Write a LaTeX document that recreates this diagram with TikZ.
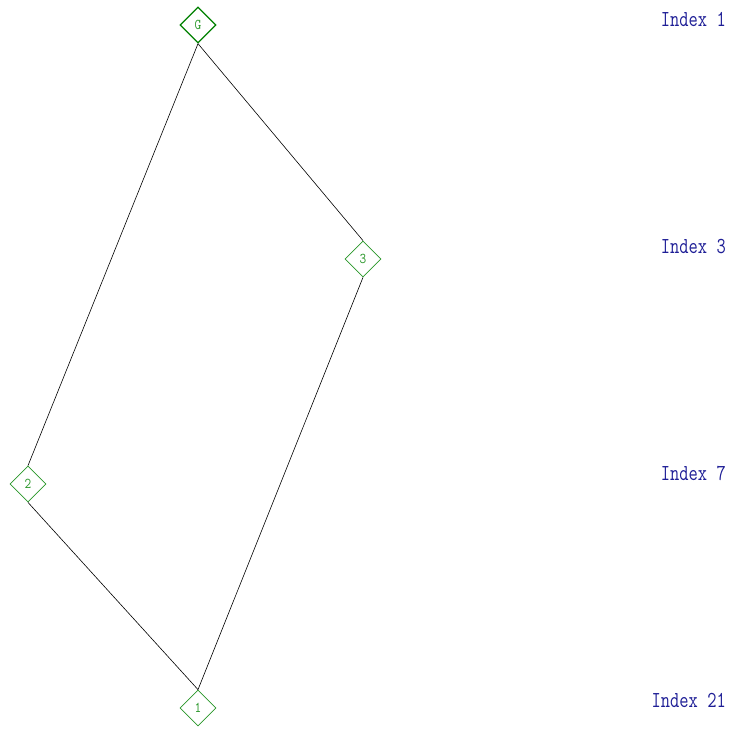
\documentclass[tikz,border=0pt]{standalone}
\usetikzlibrary{shapes.geometric}
\definecolor{dgreen}{RGB}{0,128,0}
\definecolor{lgreen}{RGB}{40,150,40}
\definecolor{idxblue}{RGB}{30,30,150}
\tikzset{
  vert/.style={diamond, draw=lgreen, line width=0.8pt, minimum width=36pt, minimum height=36pt, inner sep=0pt,
    font=\ttfamily\fontsize{13}{13}\selectfont, text=lgreen},
  gvert/.style={vert, draw=dgreen, line width=1.3pt},
  idx/.style={anchor=base east, inner sep=0pt, text=idxblue, font=\ttfamily\fontsize{18}{19}\selectfont},
  edge/.style={draw=black, line width=0.6pt}
}
\newcommand{\tallt}[1]{\scalebox{1}[1.27]{#1}}
\begin{document}
\begin{tikzpicture}[x=1pt,y=-1pt]
\useasboundingbox (0,0) rectangle (733,728);
\node[gvert] (G) at (198,25) {\scalebox{1}[1.15]{G}};
\node[vert] (n3) at (363,259) {\scalebox{1}[1.15]{3}};
\node[vert] (n2) at (28,484) {\scalebox{1}[1.15]{2}};
\node[vert] (n1) at (198,708) {\scalebox{1}[1.15]{1}};
\draw[edge] (G.south) -- (n2.north);
\draw[edge] (G.south) -- (n3.north);
\draw[edge] (n2.south) -- (n1.north);
\draw[edge] (n3.south) -- (n1.north);
\node[idx] (i1) at (726,26) {\tallt{Index 1}};
\node[idx] (i3) at (726,253) {\tallt{Index 3}};
\node[idx] (i7) at (726,480) {\tallt{Index 7}};
\node[idx] (i21) at (726,707) {\tallt{Index 21}};
\end{tikzpicture}
\end{document}
